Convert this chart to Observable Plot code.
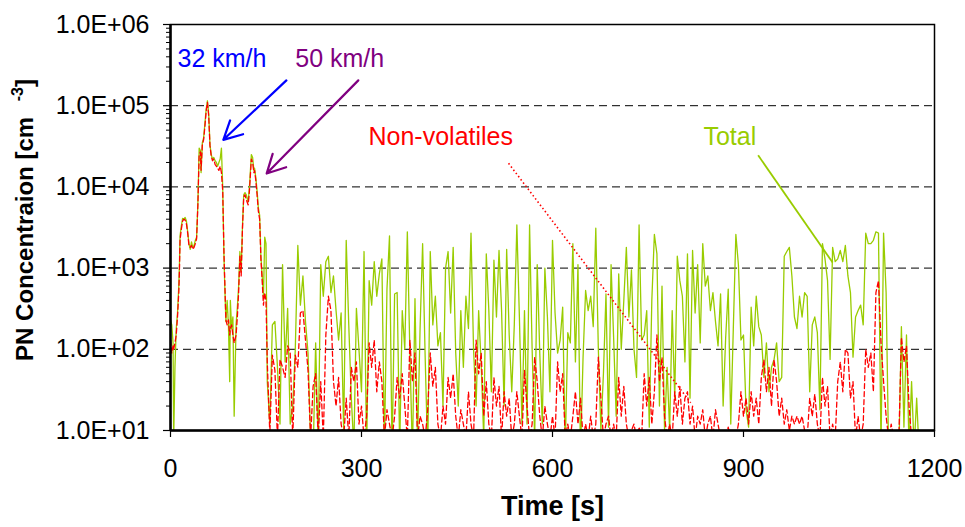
<!DOCTYPE html>
<html>
<head>
<meta charset="utf-8">
<script src="https://cdn.jsdelivr.net/npm/d3@7"></script>
<script src="https://cdn.jsdelivr.net/npm/@observablehq/plot@0.6"></script>
<style>
  html, body { margin: 0; padding: 0; background: #fff; }
  svg { display: block; }
</style>
</head>
<body>
<div id="chart"></div>
<script>
// ---------- DATA ----------
// Start-up phase (explicit sample times, s)
const earlyTime = [0,2,4,5,7,9,11,13,14,15,17,19,21,23,25,27,29,31,33,35,37,39,41,43,45,47,48,50,52,54,56,58,60,62,64,66,68,70,72,74,76,78,80,82,84,85,87,89,91,93,94,96,98,100,103,105,107,109,111,113,115,117,119,122,124,127,129,131,132,134,136,138,140,142,144,146,148,150];
const earlyTotal = [230,200,120,8,60,180,280,600,1100,2500,3300,4100,4000,4200,3800,2800,2000,1700,2100,1800,1900,2200,2400,6300,30000,28000,15000,35000,40000,60000,90000,115000,80000,33000,25000,22000,23000,21000,20000,18000,20000,22000,30000,10000,1350,700,220,400,200,40,400,180,250,15,200,330,600,1600,900,3200,8000,8500,8000,6500,10000,25000,23000,16000,17000,13000,9000,5500,4500,1400,800,450,2400,2000];
const earlyNonVol = [130,90,110,100,120,150,250,500,900,2200,3000,3800,4000,3900,3500,2700,1900,1800,1900,1700,1800,2000,2300,6000,25000,27000,16000,33000,38000,55000,85000,110000,75000,32000,24000,21000,22000,19000,18000,17000,16000,18000,15000,9000,1500,800,230,200,230,150,180,200,150,120,150,250,500,1400,800,3000,7500,8000,7000,6000,9000,22000,20000,15000,16000,12000,8000,5000,4000,1300,700,350,500,400];

// Cruise phase, sampled every 4 s starting at 152 s
const cruiseStart = 152;
const cruiseStep = 4;
const cruiseTotal = [
  40,12,200,220,60,12,1100,70,320,12,20,100,1900,350,800,220,90,8,5,120,6,1100,450,1200,
  1400,500,800,300,130,280,10,2200,200,25,6,320,100,30,1600,5,700,350,1200,450,850,1300,6,550,2500,5,480,500,6,300,100,2800,90,5,420,7,180,2000,80,5,1600,200,450,110,160,20,1000,1600,280,1800,90,20,300,60,450,180,2700,100,20,300,65,8,
  1500,300,30,1250,250,1650,300,20,1700,150,30,200,3400,250,12,300,12,3400,100,8,1100,90,12,1000,250,30,2200,280,90,130,330,6,160,120,2000,70,1100,5,80,530,300,450,190,3100,100,10,50,480,11,1100,140,15,850,100,400,1800,250,950,100,45,3400,130,
  150,300,11,400,2600,1500,20,600,10,60,10,300,25,1400,700,450,70,1500,25,1650,280,1100,120,2000,600,800,300,500,220,110,480,20,140,550,12,180,2600,1100,130,150,18,11,330,110,450,190,150,45,120,30,60,75,120,40,45,1400,1600,1800,800,250,180,
  450,250,500,450,30,200,250,160,18,2000,1300,700,75,1800,1200,1300,1650,1200,1900,800,500,80,250,300,350,200,2700,2000,2000,2200,2800,2700,6,2700,500,5,5,5,5,5,190,11,150,6,40,6,25,5
];
const cruiseNonVol = [
  70,9,85,55,8,75,60,45,110,90,8,85,60,280,300,130,55,8,35,50,8,40,8,150,
  450,300,40,20,45,12,8,25,8,60,40,70,12,20,8,15,120,60,130,30,70,40,8,18,12,8,15,45,25,50,20,8,130,40,90,8,15,12,8,18,90,35,60,12,8,20,12,45,25,50,15,8,18,12,8,30,12,8,130,50,90,15,
  40,12,8,45,20,35,8,30,15,25,8,12,30,15,8,55,20,8,12,80,40,15,8,20,12,8,15,8,70,30,50,8,12,8,15,30,12,25,8,12,8,15,8,12,80,25,8,12,15,8,12,8,45,15,35,12,8,10,12,8,11,8,
  50,20,45,12,30,150,40,80,15,8,12,8,30,15,35,12,25,30,12,20,8,15,12,18,8,12,15,8,18,12,8,10,8,11,8,10,8,12,30,15,25,12,30,15,25,12,45,75,30,60,20,75,40,15,25,12,18,10,15,12,15,
  12,15,10,8,25,15,28,12,8,45,20,35,8,12,8,40,70,30,100,90,25,40,8,15,8,12,100,60,90,30,500,700,120,40,15,8,12,8,10,8,140,70,110,20,8,9,8,8
];

// Axes
const yTicks = [1e1, 1e2, 1e3, 1e4, 1e5, 1e6];
const yTickLabels = ["1.0E+01", "1.0E+02", "1.0E+03", "1.0E+04", "1.0E+05", "1.0E+06"];
const gridValues = [1e2, 1e3, 1e4, 1e5];
const xTicks = [0, 300, 600, 900, 1200];

// Annotations (data coordinates)
const labels = [
  {text: "32 km/h", t: 11, v: 380000, color: "#0000FF"},
  {text: "50 km/h", t: 196, v: 380000, color: "#800080"},
  {text: "Non-volatiles", t: 311, v: 41000, color: "#FF0000"},
  {text: "Total", t: 837, v: 41000, color: "#99CC00"}
];
const arrowBlue = [{t1: 182, v1: 205000, t2: 83, v2: 38000}];
const arrowPurple = [{t1: 295, v1: 205000, t2: 151, v2: 14600}];
const leaderRed = [{t1: 531, v1: 19500, t2: 817, v2: 22}];
const leaderGreen = [{t1: 923, v1: 24500, t2: 1040, v2: 1170}];

// ---------- BUILD ----------
const totalData = earlyTime.map((t, i) => ({t, v: earlyTotal[i]}))
  .concat(cruiseTotal.map((v, i) => ({t: cruiseStart + cruiseStep * i, v})));
const nonVolData = earlyTime.map((t, i) => ({t, v: earlyNonVol[i]}))
  .concat(cruiseNonVol.map((v, i) => ({t: cruiseStart + cruiseStep * i, v})));

const yMinor = [];
for (let k = 1; k < 6; k++) for (let m = 2; m <= 9; m++) yMinor.push(m * Math.pow(10, k));

const FONT = "'Liberation Sans', Arial, Helvetica, sans-serif";

const chart = Plot.plot({
  width: 965,
  height: 527,
  marginTop: 24,
  marginBottom: 97,
  marginLeft: 170,
  marginRight: 31,
  style: {fontFamily: FONT, fontSize: "25px", background: "#fff", color: "#000", overflow: "visible"},
  x: {domain: [0, 1200]},
  y: {type: "log", domain: [10, 1e6]},
  marks: [
    Plot.ruleY(gridValues, {stroke: "#000", strokeWidth: 1, strokeDasharray: "8,5"}),
    Plot.line(totalData, {x: "t", y: "v", stroke: "#99CC00", strokeWidth: 1.3, clip: true}),
    Plot.line(nonVolData, {x: "t", y: "v", stroke: "#FF0000", strokeWidth: 1.3, strokeDasharray: "5,3", clip: true}),
    Plot.frame({stroke: "#000", strokeWidth: 1.5}),
    Plot.ruleX([0], {stroke: "#000", strokeWidth: 2.5}),
    Plot.ruleY([10], {stroke: "#000", strokeWidth: 2.5}),
    Plot.axisY({ticks: yTicks, tickFormat: d => yTickLabels[yTicks.indexOf(d)], tickSize: 7, tickPadding: 14, label: null, fontSize: 25, strokeWidth: 1.2}),
    Plot.axisY({ticks: yMinor, tickFormat: () => "", tickSize: 4, label: null}),
    Plot.axisX({ticks: xTicks, tickFormat: d => String(d), tickSize: 7, tickPadding: 22, label: null, fontSize: 25, strokeWidth: 1.2}),
    Plot.text(["Time [s]"], {text: d => d, frameAnchor: "bottom", dy: 84, fontWeight: "bold", fontSize: 27}),
    Plot.text(labels, {x: "t", y: "v", text: "text", fill: "color", textAnchor: "start", fontSize: 25}),
    Plot.arrow(arrowBlue, {x1: "t1", y1: "v1", x2: "t2", y2: "v2", stroke: "#0000FF", strokeWidth: 2.2, headLength: 14, headAngle: 55}),
    Plot.arrow(arrowPurple, {x1: "t1", y1: "v1", x2: "t2", y2: "v2", stroke: "#800080", strokeWidth: 2.2, headLength: 14, headAngle: 55}),
    Plot.link(leaderRed, {x1: "t1", y1: "v1", x2: "t2", y2: "v2", stroke: "#FF0000", strokeWidth: 1.6, strokeDasharray: "1.5,2.5"}),
    Plot.link(leaderGreen, {x1: "t1", y1: "v1", x2: "t2", y2: "v2", stroke: "#99CC00", strokeWidth: 1.8})
  ]
});

// Y axis title with superscript
const yt = d3.select(chart).append("text")
  .attr("transform", "translate(33,220) rotate(-90)")
  .attr("text-anchor", "middle")
  .attr("font-family", FONT)
  .attr("font-weight", "bold")
  .attr("font-size", 24)
  .attr("fill", "#000");
yt.append("tspan").text("PN Concentraion [cm ");
yt.append("tspan").attr("dy", -10).attr("font-size", 16).text("  -3");
yt.append("tspan").attr("dy", 10).text("]");

document.getElementById("chart").appendChild(chart);
</script>
</body>
</html>
